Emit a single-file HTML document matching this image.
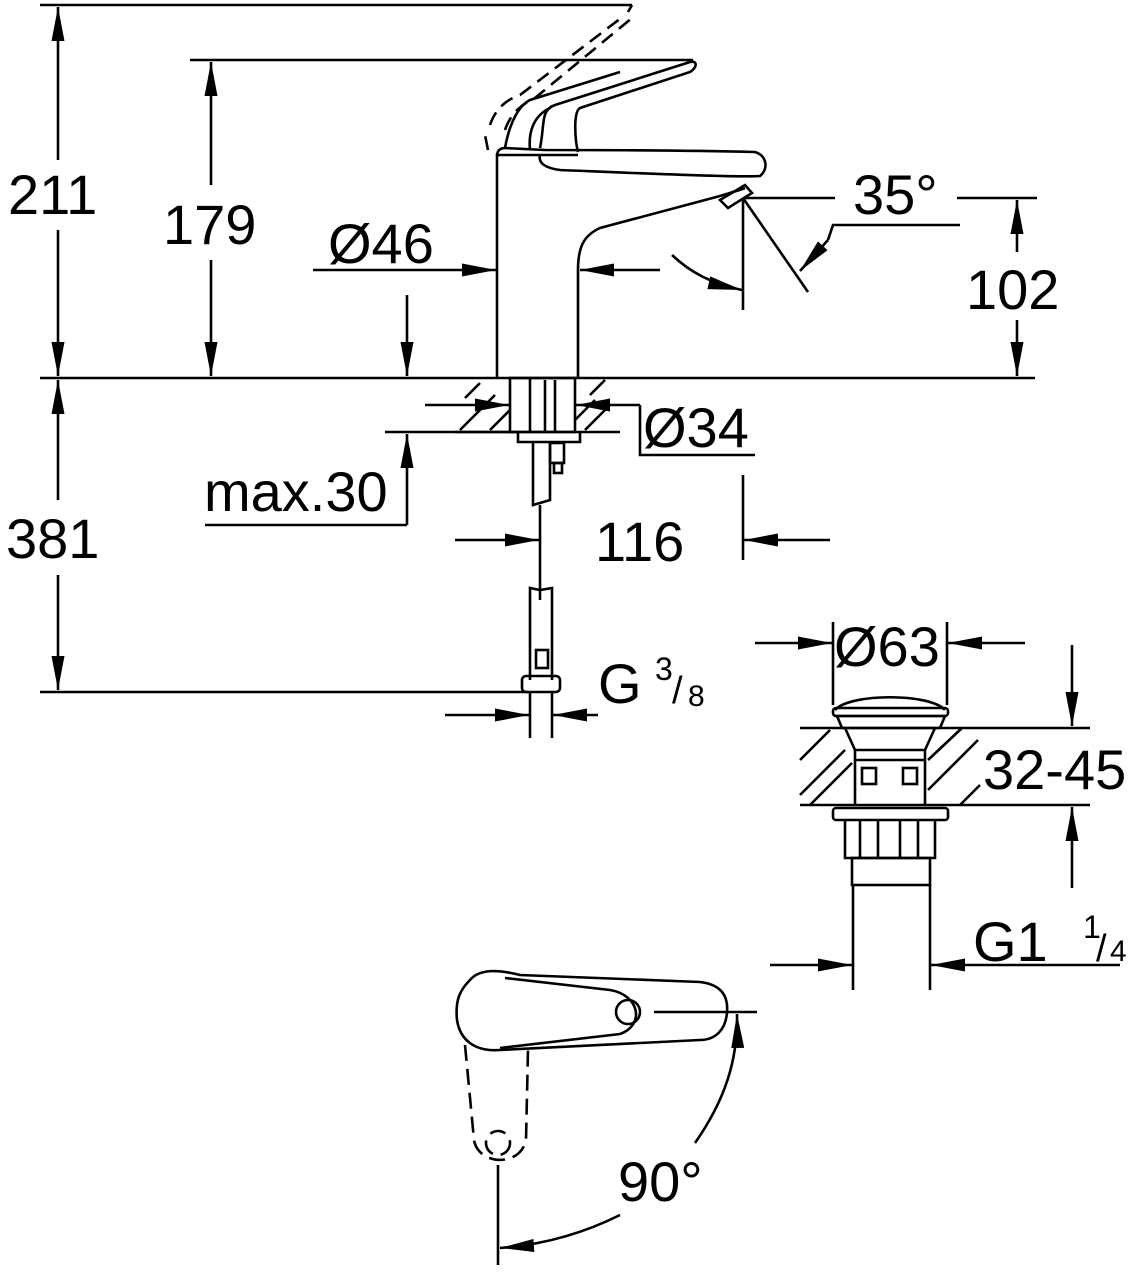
<!DOCTYPE html>
<html><head><meta charset="utf-8"><style>
html,body{margin:0;padding:0;background:#fff}
svg{display:block}
text{font-family:"Liberation Sans",sans-serif;fill:#000}
</style></head><body>
<svg width="1146" height="1280" viewBox="0 0 1146 1280" xmlns="http://www.w3.org/2000/svg">
<defs>
<marker id="a" viewBox="0 0 34 13" refX="34" refY="6.5" markerWidth="34" markerHeight="13" markerUnits="userSpaceOnUse" orient="auto"><path d="M0,0 L34,6.5 L0,13 Z" fill="#000"/></marker>
</defs>
<g stroke="#000" stroke-width="2.6" fill="none">
<line x1="40" y1="5" x2="632" y2="5"/>
<line x1="190" y1="60" x2="693" y2="60"/>
<line x1="40" y1="378" x2="1035" y2="378"/>
<line x1="40" y1="692" x2="528" y2="692"/>
<line x1="58" y1="160" x2="58" y2="7" marker-end="url(#a)"/>
<line x1="58" y1="230" x2="58" y2="376" marker-end="url(#a)"/>
<line x1="58" y1="500" x2="58" y2="380" marker-end="url(#a)"/>
<line x1="58" y1="575" x2="58" y2="690" marker-end="url(#a)"/>
<line x1="211" y1="185" x2="211" y2="62" marker-end="url(#a)"/>
<line x1="211" y1="260" x2="211" y2="376" marker-end="url(#a)"/>
<line x1="313" y1="270" x2="496" y2="270" marker-end="url(#a)"/>
<line x1="660" y1="270" x2="580" y2="270" marker-end="url(#a)"/>
<line x1="407" y1="295" x2="407" y2="376" marker-end="url(#a)"/>
<path d="M497,378 L497,155 L578,155"/>
<path d="M578,378 L578,270 C578,245 585,235 600,228 L720,196 C730,193 740,190 745,188"/>
<path d="M497,155 Q498,148 505,148 L545,150 C560,150 680,150 755,152 C768,156 768,170 760,176 C740,178 610,172 560,170 C545,168 538,163 540,155"/>
<path d="M540,148 C545,125 540,110 555,105 L690,62 C697,60 698,67 690,72 L580,108 C573,112 575,140 578,152"/>
<path d="M505,148 C510,120 520,105 530,100 L620,72"/>
<path d="M530,150 C528,130 535,115 550,108"/>
<path d="M720,200 L745,185 L752,193 L728,208 Z"/>
<g stroke-dasharray="14,8">
<path d="M490,125 C495,110 505,100 520,95 L625,15"/>
<path d="M505,130 C510,115 520,105 535,98 L632,18"/>
<path d="M488,150 L485,135"/>
<line x1="632" y1="5" x2="628" y2="12"/>
</g>
<line x1="743" y1="198" x2="743" y2="310"/>
<line x1="743" y1="198" x2="808" y2="292"/>
<path d="M672,255 C690,272 710,283 742,290" marker-end="url(#a)"/>
<line x1="745" y1="198" x2="835" y2="198"/>
<line x1="957" y1="198" x2="1037" y2="198"/>
<polyline points="960,225 833,225 828,240"/>
<line x1="828" y1="240" x2="800" y2="271" marker-end="url(#a)"/>
<line x1="1017" y1="252" x2="1017" y2="200" marker-end="url(#a)"/>
<line x1="1017" y1="320" x2="1017" y2="376" marker-end="url(#a)"/>
<line x1="455" y1="432" x2="620" y2="432"/>
<rect x="510" y="378" width="65" height="54"/>
<line x1="530" y1="378" x2="530" y2="432"/>
<line x1="545" y1="380" x2="545" y2="432"/>
<line x1="555" y1="380" x2="555" y2="432"/>
<path d="M465,398 L480,383 M460,430 L495,395 M490,430 L510,410 M575,420 L595,400 M585,430 L610,405 M590,395 L605,380"/>
<path d="M518,432 L518,442 L580,442 L580,432"/>
<line x1="425" y1="405" x2="509" y2="405" marker-end="url(#a)"/>
<line x1="640" y1="405" x2="576" y2="405" marker-end="url(#a)"/>
<polyline points="640,405 640,455 755,455"/>
<line x1="385" y1="432" x2="515" y2="432"/>
<line x1="407" y1="525" x2="407" y2="434" marker-end="url(#a)"/>
<line x1="205" y1="525" x2="407" y2="525"/>
<path d="M533,442 L533,505 L540,503 L550,500 L550,442"/>
<rect x="550" y="443" width="14" height="20"/>
<rect x="554" y="463" width="8" height="10"/>
<line x1="540" y1="505" x2="540" y2="600"/>
<path d="M530,680 L530,588 L540,590 L552,588 L552,680"/>
<rect x="536" y="650" width="12" height="18"/>
<rect x="522" y="676" width="38" height="16" rx="4"/>
<line x1="530" y1="692" x2="530" y2="738"/>
<line x1="552" y1="692" x2="552" y2="738"/>
<line x1="455" y1="540" x2="539" y2="540" marker-end="url(#a)"/>
<line x1="743" y1="475" x2="743" y2="560"/>
<line x1="830" y1="540" x2="744" y2="540" marker-end="url(#a)"/>
<line x1="445" y1="715" x2="529" y2="715" marker-end="url(#a)"/>
<line x1="598" y1="715" x2="553" y2="715" marker-end="url(#a)"/>
<line x1="833" y1="622" x2="833" y2="705"/>
<line x1="947" y1="622" x2="947" y2="705"/>
<line x1="755" y1="643" x2="832" y2="643" marker-end="url(#a)"/>
<line x1="1025" y1="643" x2="948" y2="643" marker-end="url(#a)"/>
<path d="M835,710 C850,693 930,693 945,710"/>
<rect x="833" y="708" width="115" height="8" rx="3"/>
<path d="M837,716 L945,716 L940,728 L842,728 Z"/>
<line x1="800" y1="728" x2="1090" y2="728"/>
<line x1="800" y1="805" x2="1090" y2="805"/>
<path d="M845,728 L855,750 L925,750 L935,728 M855,750 L855,805 M925,750 L925,805"/>
<line x1="855" y1="760" x2="925" y2="760"/>
<rect x="862" y="768" width="14" height="16"/>
<rect x="903" y="768" width="14" height="16"/>
<path d="M800,760 L830,730 M800,795 L845,750 M810,805 L852,763 M928,760 L962,728 M928,790 L978,740 M960,805 L980,785"/>
<rect x="833" y="808" width="115" height="12" rx="3"/>
<path d="M845,820 L845,858 L935,858 L935,820 M860,820 L860,858 M878,820 L878,858 M900,820 L900,858 M918,820 L918,858"/>
<rect x="852" y="858" width="78" height="27"/>
<line x1="853" y1="885" x2="853" y2="990"/>
<line x1="930" y1="885" x2="930" y2="990"/>
<line x1="1072" y1="645" x2="1072" y2="726" marker-end="url(#a)"/>
<line x1="1072" y1="888" x2="1072" y2="807" marker-end="url(#a)"/>
<line x1="770" y1="965" x2="852" y2="965" marker-end="url(#a)"/>
<line x1="1120" y1="965" x2="931" y2="965" marker-end="url(#a)"/>
<path d="M470,980 C480,968 500,970 520,975 L700,982 C725,985 728,1000 727,1012 C726,1030 715,1040 700,1040 L500,1050 C475,1052 460,1040 457,1020 C455,1000 460,990 470,980 Z"/>
<path d="M505,978 L610,990 C640,995 645,1025 620,1034 L500,1048"/>
<circle cx="628" cy="1012" r="12"/>
<line x1="654" y1="1012" x2="757" y2="1012"/>
<g stroke-dasharray="16,8">
<path d="M465,1045 L474,1140 C478,1165 520,1168 526,1140 L528,1050"/>
<circle cx="498" cy="1143" r="12"/>
</g>
<line x1="498" y1="1165" x2="498" y2="1265"/>
<path d="M695,1143 C725,1100 738,1060 737,1014" marker-end="url(#a)"/>
<path d="M620,1215 C580,1235 540,1245 500,1248" marker-end="url(#a)"/>
</g>
<g font-size="56">
<text x="8" y="214">211</text>
<text x="163" y="244">179</text>
<text x="328" y="263">Ø46</text>
<text x="853" y="214">35°</text>
<text x="966" y="309">102</text>
<text x="643" y="447">Ø34</text>
<text x="204" y="511">max.30</text>
<text x="6" y="558">381</text>
<text x="595" y="561">116</text>
<text x="598" y="703">G</text>
<text x="834" y="666">Ø63</text>
<text x="983" y="789">32-45</text>
<text x="973" y="961">G1</text>
<text x="618" y="1201">90°</text>
</g>
<text x="655" y="680" font-size="32">3</text>
<text x="672" y="703" font-size="38">/</text>
<text x="688" y="706" font-size="30">8</text>
<text x="1083" y="938" font-size="32">1</text>
<text x="1096" y="961" font-size="38">/</text>
<text x="1110" y="961" font-size="30">4</text>
</svg>
</body></html>
